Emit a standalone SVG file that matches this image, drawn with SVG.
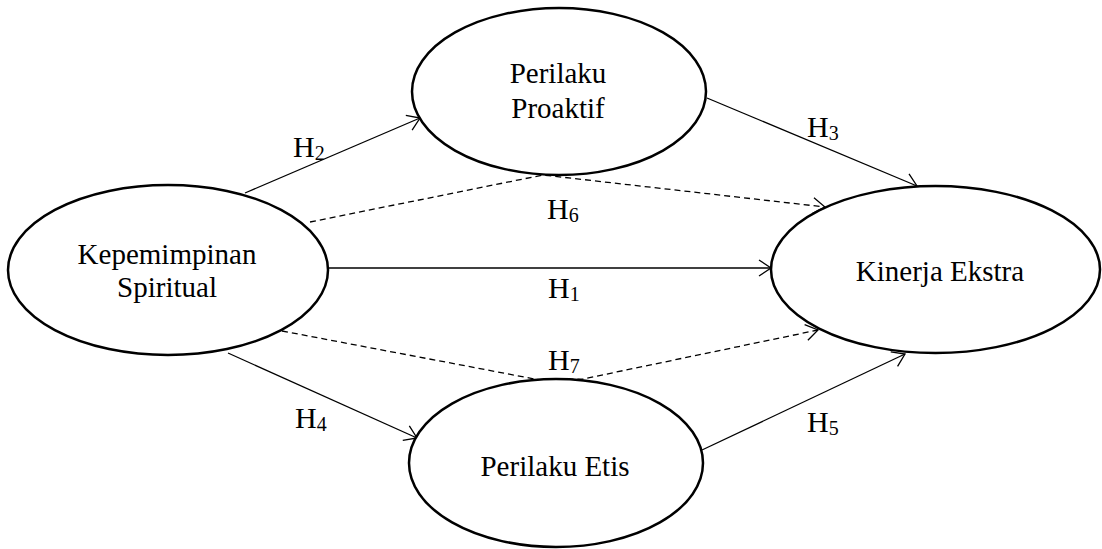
<svg xmlns="http://www.w3.org/2000/svg" width="1102" height="549" viewBox="0 0 1102 549">
<style>
.node{fill:#fff;stroke:#000;stroke-width:2.5}
.lbl{font-family:"Liberation Serif","Times New Roman",serif;font-size:29px;fill:#000;text-anchor:middle}
.h{font-family:"Liberation Serif","Times New Roman",serif;font-size:30px;fill:#000}
.sub{font-size:20px}
.edge{fill:none;stroke:#000;stroke-width:1.3}
.dash{stroke-dasharray:6 4}
</style>
<defs>
<marker id="arr" markerUnits="userSpaceOnUse" markerWidth="20" markerHeight="20" viewBox="-14 -10 16 20" refX="0" refY="0" orient="auto">
<path d="M-12,-8 L0,0 L-12,8" fill="none" stroke="#000" stroke-width="1.3"/>
</marker>
</defs>
<g id="connectors">
<line class="edge" x1="328" y1="268" x2="771" y2="268" marker-end="url(#arr)"/>
<line class="edge" x1="245" y1="193" x2="420" y2="118" marker-end="url(#arr)"/>
<line class="edge" x1="707" y1="98" x2="917" y2="186" marker-end="url(#arr)"/>
<line class="edge" x1="228" y1="353" x2="417" y2="438" marker-end="url(#arr)"/>
<line class="edge" x1="702" y1="450" x2="905" y2="354" marker-end="url(#arr)"/>
<polyline class="edge dash" points="310,222 543,175 825,207" marker-end="url(#arr)"/>
<polyline class="edge dash" points="282,331 540,380 583,379 818,330" marker-end="url(#arr)"/>
<text class="h" x="293" y="157">H<tspan class="sub" dy="3">2</tspan></text>
<text class="h" x="807" y="137">H<tspan class="sub" dy="3">3</tspan></text>
<text class="h" x="547" y="219">H<tspan class="sub" dy="3">6</tspan></text>
<text class="h" x="548" y="298">H<tspan class="sub" dy="3">1</tspan></text>
<text class="h" x="548" y="370">H<tspan class="sub" dy="3">7</tspan></text>
<text class="h" x="295" y="428">H<tspan class="sub" dy="3">4</tspan></text>
<text class="h" x="807" y="432">H<tspan class="sub" dy="3">5</tspan></text>
</g>
<g id="kepemimpinan">
<ellipse class="node" cx="168" cy="270" rx="160" ry="85"/>
<text class="lbl" x="167" y="264">Kepemimpinan</text>
<text class="lbl" x="167" y="297">Spiritual</text>
</g>
<g id="proaktif">
<ellipse class="node" cx="559" cy="91.5" rx="147" ry="83.5"/>
<text class="lbl" x="558" y="83">Perilaku</text>
<text class="lbl" x="558" y="118">Proaktif</text>
</g>
<g id="etis">
<ellipse class="node" cx="556" cy="463" rx="147" ry="84"/>
<text class="lbl" x="555" y="476">Perilaku Etis</text>
</g>
<g id="kinerja">
<ellipse class="node" cx="935.5" cy="269.5" rx="164.5" ry="83.5"/>
<text class="lbl" x="940" y="281">Kinerja Ekstra</text>
</g>
</svg>
